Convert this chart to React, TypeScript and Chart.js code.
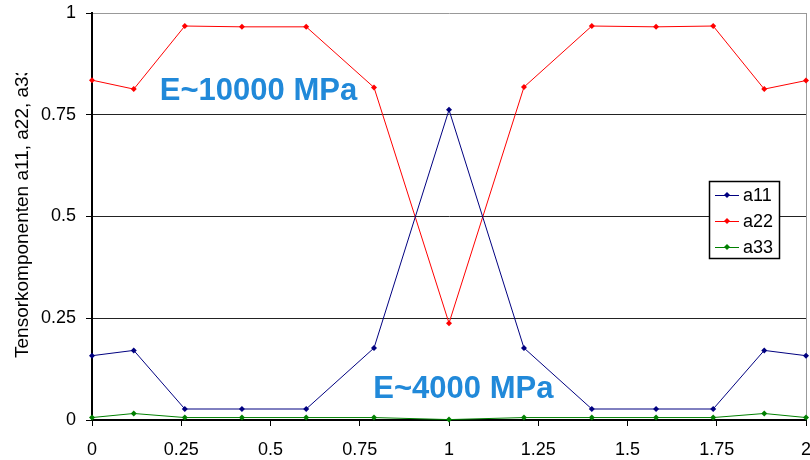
import React, { useEffect, useRef } from "react";
import { Chart, registerables } from "chart.js";

Chart.register(...registerables);

// ---- data ----
const xValues = [0, 0.117, 0.26, 0.42, 0.6, 0.79, 1.0, 1.21, 1.4, 1.58, 1.74, 1.883, 2];
const a11 = [0.158, 0.171, 0.027, 0.027, 0.027, 0.177, 0.762, 0.177, 0.027, 0.027, 0.027, 0.171, 0.158];
const a22 = [0.835, 0.813, 0.968, 0.966, 0.966, 0.817, 0.238, 0.818, 0.968, 0.966, 0.968, 0.813, 0.834];
const a33 = [0.006, 0.016, 0.006, 0.006, 0.006, 0.006, 0.001, 0.006, 0.006, 0.006, 0.006, 0.016, 0.006];
const seriesLabels = ["a11", "a22", "a33"];
const seriesColors = ["#000080", "#ff0000", "#008000"];
const xTickLabels = ["0", "0.25", "0.5", "0.75", "1", "1.25", "1.5", "1.75", "2"];
const yTickLabels = ["0", "0.25", "0.5", "0.75", "1"];
const yTitle = "Tensorkomponenten a11, a22, a33";
const notes = [
  { text: "E~10000 MPa", x: 0.19, y: 0.787 },
  { text: "E~4000 MPa", x: 0.788, y: 0.054 },
];

const FONT = "'Liberation Sans', Arial, sans-serif";

const overlayPlugin = {
  id: "overlay",
  afterDraw(chart: any) {
    const ctx = chart.ctx;
    const area = chart.chartArea;
    const xs = chart.scales.x;
    const ys = chart.scales.y;

    // axis title (clipped at top like the original)
    ctx.save();
    ctx.beginPath();
    ctx.rect(0, 73, 60, 400);
    ctx.clip();
    ctx.translate(28, 358);
    ctx.rotate(-Math.PI / 2);
    ctx.font = `19px ${FONT}`;
    ctx.fillStyle = "#000";
    ctx.textAlign = "left";
    ctx.textBaseline = "alphabetic";
    ctx.fillText(yTitle, 0, 0);
    ctx.restore();

    // annotations
    ctx.save();
    ctx.font = `bold 31px ${FONT}`;
    ctx.fillStyle = "#2189d9";
    ctx.textAlign = "left";
    ctx.textBaseline = "alphabetic";
    for (const n of notes) {
      ctx.fillText(n.text, xs.getPixelForValue(n.x), ys.getPixelForValue(n.y));
    }
    ctx.restore();

    // legend
    const bx = area.right - 97;
    const by = area.top + 168;
    const bw = 70;
    const bh = 77;
    ctx.save();
    ctx.fillStyle = "#fff";
    ctx.fillRect(bx, by, bw, bh);
    ctx.strokeStyle = "#000";
    ctx.lineWidth = 1.5;
    ctx.strokeRect(bx + 0.5, by + 0.5, bw, bh);
    ctx.font = `18px ${FONT}`;
    ctx.textAlign = "left";
    ctx.textBaseline = "middle";
    chart.data.datasets.forEach((ds: any, i: number) => {
      const cy = by + 14 + i * 26;
      ctx.strokeStyle = ds.borderColor;
      ctx.lineWidth = 1;
      ctx.beginPath();
      ctx.moveTo(bx + 6, cy + 0.5);
      ctx.lineTo(bx + 30, cy + 0.5);
      ctx.stroke();
      ctx.fillStyle = ds.borderColor;
      ctx.beginPath();
      ctx.moveTo(bx + 18, cy - 3);
      ctx.lineTo(bx + 21, cy);
      ctx.lineTo(bx + 18, cy + 3);
      ctx.lineTo(bx + 15, cy);
      ctx.closePath();
      ctx.fill();
      ctx.fillStyle = "#000";
      ctx.fillText(ds.label, bx + 34, cy + 1);
    });
    ctx.restore();
  },
};

export default function App() {
  const ref = useRef<HTMLCanvasElement | null>(null);
  useEffect(() => {
    if (!ref.current) return;
    const series = [a11, a22, a33];
    const chart = new Chart(ref.current, {
      type: "line",
      data: {
        datasets: series.map((s, i) => ({
          label: seriesLabels[i],
          data: s.map((v, j) => ({ x: xValues[j], y: v })),
          borderColor: seriesColors[i],
          backgroundColor: seriesColors[i],
          borderWidth: 1,
          pointStyle: "rectRot",
          pointRadius: 3,
          pointBorderWidth: 0,
          tension: 0,
          clip: false,
        })),
      },
      options: {
        animation: false,
        responsive: true,
        maintainAspectRatio: false,
        layout: { padding: { top: 13, right: 2, left: 0, bottom: 0 } },
        plugins: { legend: { display: false }, tooltip: { enabled: false } },
        scales: {
          x: {
            type: "linear",
            min: 0,
            max: 2,
            afterFit: (s: any) => {
              s.height = 40;
              s.paddingRight = 0;
              s.paddingLeft = 0;
            },
            ticks: {
              stepSize: 0.25,
              maxRotation: 0,
              autoSkip: false,
              padding: 13,
              color: "#000",
              font: { family: FONT, size: 18 },
              callback: (_v: any, i: number) => xTickLabels[i],
            },
            grid: {
              color: (c: any) => (c.tick && c.tick.value === 2 ? "#999" : "rgba(0,0,0,0)"),
              tickColor: "#000",
              tickLength: 6,
              lineWidth: 1,
            },
            border: { color: "#000", width: 2 },
          },
          y: {
            min: 0,
            max: 1,
            afterFit: (s: any) => {
              s.width = 92;
              s.paddingTop = 0;
              s.paddingBottom = 0;
            },
            ticks: {
              stepSize: 0.25,
              padding: 10,
              color: "#000",
              font: { family: FONT, size: 18 },
              callback: (_v: any, i: number) => yTickLabels[i],
            },
            grid: {
              color: (c: any) => (c.tick && c.tick.value === 1 ? "#999" : "#222"),
              tickColor: "#000",
              tickLength: 6,
              lineWidth: 1,
            },
            border: { color: "#000", width: 2 },
          },
        },
      },
      plugins: [overlayPlugin],
    });
    return () => chart.destroy();
  }, []);
  return (
    <div style={{ position: "fixed", left: 0, top: 0, width: 810, height: 460, background: "#fff" }}>
      <canvas ref={ref} />
    </div>
  );
}
